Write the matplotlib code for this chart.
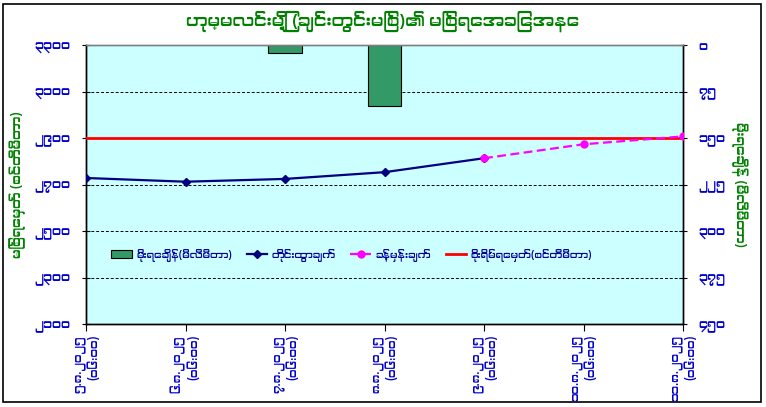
import numpy as np
import matplotlib
matplotlib.use("Agg")
import matplotlib.pyplot as plt
import matplotlib.patches as mpatches
from matplotlib import font_manager

# ------------------------------------------------------------------ #
# Data                                                                #
# ------------------------------------------------------------------ #

dates = ["၅.၈.၂၀၂၅", "၆.၈.၂၀၂၅", "၇.၈.၂၀၂၅", "၈.၈.၂၀၂၅",
         "၉.၈.၂၀၂၅", "၁၀.၈.၂၀၂၅", "၁၁.၈.၂၀၂၅"]
times = ["(၀၆:၀၀)"] * 7

rain_mm = [np.nan, np.nan, 13, 99, np.nan, np.nan, np.nan]
observed = [2728, 2712, 2724, 2753, 2813, np.nan, np.nan]
forecast = [np.nan, np.nan, np.nan, np.nan, 2813, 2873, 2907]
danger = [2900, 2900, 2900, 2900, 2900, 2900, 2900]

level_ticks = [2100, 2300, 2500, 2700, 2900, 3100, 3300]
level_labels = ["၂၁၀၀", "၂၃၀၀", "၂၅၀၀", "၂၇၀၀", "၂၉၀၀", "၃၁၀၀", "၃၃၀၀"]
rain_ticks = [0, 75, 150, 225, 300, 375, 450]
rain_labels = ["၀", "၇၅", "၁၅၀", "၂၂၅", "၃၀၀", "၃၇၅", "၄၅၀"]

title = "ဟုမ္မလင်းမြို့ (ချင်းတွင်းမြစ်)၏ မြစ်ရေအခြေအနေ"
left_label = "မြစ်ရေမှတ် (စင်တီမီတာ)"
right_label = "မိုးရေချိန် (မီလီမီတာ)"
legend_names = ["မိုးရေချိန်(မီလီမီတာ)", "တိုင်းထွာချက်", "ခန့်မှန်းချက်",
                "စိုးရိမ်ရေမှတ်(စင်တီမီတာ)"]

# ------------------------------------------------------------------ #
# Style                                                               #
# ------------------------------------------------------------------ #

# use a Myanmar font if one happens to be installed
families = []
for f in font_manager.fontManager.ttflist:
    if ("Myanmar" in f.name or "Padauk" in f.name) and f.name not in families:
        families.append(f.name)
plt.rcParams["font.family"] = families + ["DejaVu Sans"]

BLUE = "#0000CC"
GREEN = "#008000"

fig = plt.figure(figsize=(7.66, 4.07), dpi=100)
fig.patches.append(mpatches.Rectangle((3 / 766, 1 - 402 / 407), 758 / 766, 398 / 407,
                                      transform=fig.transFigure, fill=False,
                                      edgecolor="black", linewidth=1.2))

rect = [86 / 766, 1 - 324 / 407, 597 / 766, 279 / 407]
ax_r = fig.add_axes(rect)          # rain (bars), right axis, drawn underneath
ax_l = ax_r.twinx()                # water level, left axis
ax_l.yaxis.tick_left()
ax_l.yaxis.set_label_position("left")
ax_r.yaxis.tick_right()
ax_r.yaxis.set_label_position("right")

x = np.arange(len(dates))

ax_r.set_facecolor("#CCFFFF")
ax_r.set_axisbelow(True)
ax_r.grid(axis="y", color="black", linestyle=(0, (3, 2)), linewidth=0.7)
ax_r.bar(x, rain_mm, width=0.34, color="#339966", edgecolor="black",
         linewidth=0.8, zorder=2)
ax_r.set_ylim(450, 0)
ax_r.set_yticks(rain_ticks)
ax_r.set_yticklabels(rain_labels)
ax_r.set_ylabel(right_label, color=GREEN, fontsize=9.5, rotation=270,
                labelpad=16)

ax_l.plot(x, danger, color="#FF0000", linewidth=2, zorder=3)
ax_l.plot(x, observed, color="#000080", linewidth=1.6, marker="D",
          markersize=4, zorder=4)
ax_l.plot(x, forecast, color="#FF00FF", linewidth=1.6, linestyle=(0, (4, 2)),
          marker="o", markersize=5, zorder=4)
ax_l.set_ylim(2100, 3300)
ax_l.set_yticks(level_ticks)
ax_l.set_yticklabels(level_labels)
ax_l.set_ylabel(left_label, color=GREEN, fontsize=9.5, labelpad=6)

ax_r.set_xlim(0, 6)
ax_r.set_xticks(x)
ax_r.set_xticklabels([d + "\n" + t for d, t in zip(dates, times)],
                     rotation=90, ha="center", va="top", multialignment="right")

for a in (ax_l, ax_r):
    for t in a.get_yticklabels():
        t.set_color(BLUE)
        t.set_fontweight("bold")
        t.set_fontsize(9)
    for t in a.get_xticklabels():
        t.set_color(BLUE)
        t.set_fontweight("bold")
        t.set_fontsize(8.5)
    for s in a.spines.values():
        s.set_color("black")
        s.set_linewidth(1)
ax_r.spines["top"].set_color("#808080")
ax_l.spines["top"].set_color("#808080")
ax_l.tick_params(axis="y", direction="inout", length=6, pad=8)
ax_r.tick_params(axis="y", direction="inout", length=6, pad=8)
ax_r.tick_params(axis="x", direction="out", length=5, pad=3)

fig.suptitle(title, color=GREEN, fontweight="bold", fontsize=12.5, y=0.975)

handles = [
    mpatches.Patch(facecolor="#339966", edgecolor="black", linewidth=0.8),
    plt.Line2D([], [], color="#000080", linewidth=1.6, marker="D", markersize=4),
    plt.Line2D([], [], color="#FF00FF", linewidth=1.6, linestyle=(0, (4, 2)),
               marker="o", markersize=5),
    plt.Line2D([], [], color="#FF0000", linewidth=2),
]
leg = ax_l.legend(handles, legend_names, loc="center", ncol=4,
                  bbox_to_anchor=(0.445, 0.247), frameon=False, fontsize=7.5,
                  handlelength=2.0, columnspacing=1.4, handletextpad=0.4)
for t in leg.get_texts():
    t.set_color("#000099")

fig.savefig("out.png", dpi=100)
plt.close(fig)
